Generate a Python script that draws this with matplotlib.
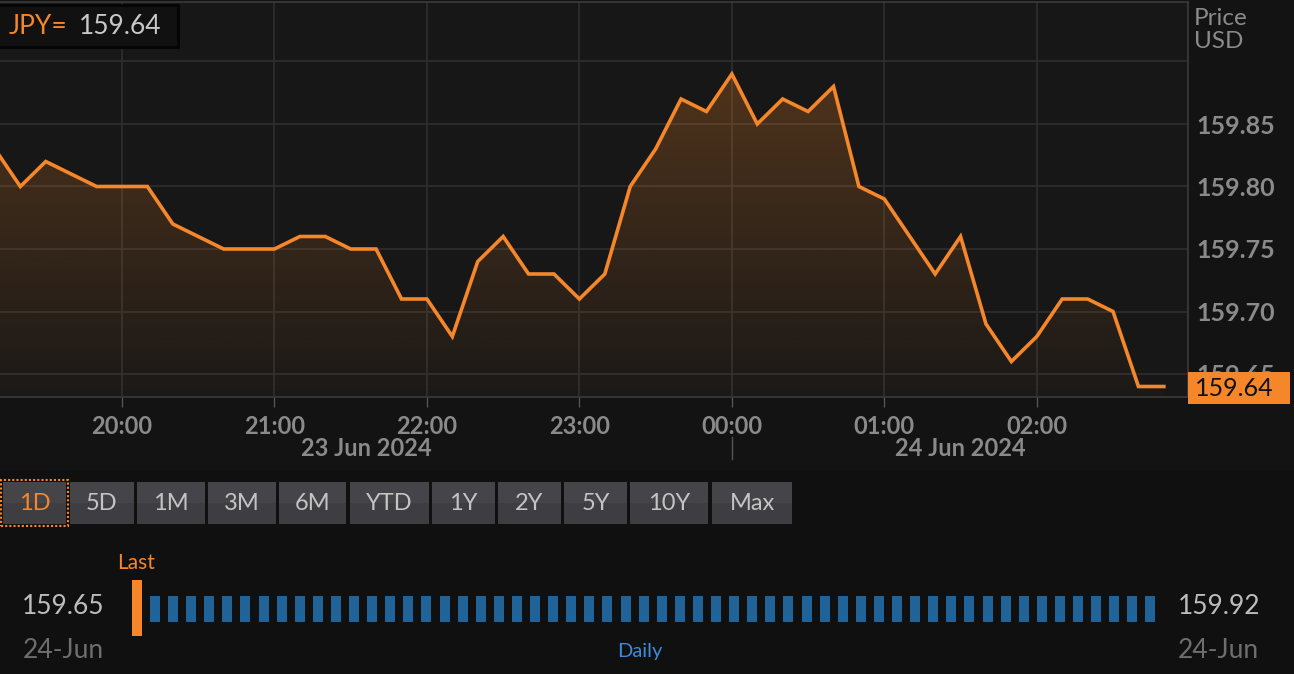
import numpy as np
import pandas as pd
import matplotlib
matplotlib.use("Agg")
import matplotlib.pyplot as plt
import matplotlib.dates as mdates
from matplotlib.patches import Rectangle

# ---------------- data ----------------
times = pd.date_range("2024-06-23 19:10", "2024-06-24 02:50", freq="10min")
prices = [159.83, 159.80, 159.82, 159.81, 159.80, 159.80, 159.80, 159.77, 159.76, 159.75,
          159.75, 159.75, 159.76, 159.76, 159.75, 159.75, 159.71, 159.71, 159.68, 159.74,
          159.76, 159.73, 159.73, 159.71, 159.73, 159.80, 159.83, 159.87, 159.86, 159.89,
          159.85, 159.87, 159.86, 159.88, 159.80, 159.79, 159.76, 159.73, 159.76, 159.69,
          159.66, 159.68, 159.71, 159.71, 159.70, 159.64, 159.64]
x_start = pd.Timestamp("2024-06-23 19:12")
x_end = pd.Timestamp("2024-06-24 02:59:30")
midnight = pd.Timestamp("2024-06-24 00:00")
x_ticks = pd.date_range("2024-06-23 20:00", "2024-06-24 02:00", freq="1h")
y_ticks = [159.65, 159.70, 159.75, 159.80, 159.85, 159.90]
y_tick_labels = ["159.65", "159.70", "159.75", "159.80", "159.85", ""]
day_labels = ["23 Jun 2024", "24 Jun 2024"]
ric = "JPY="
last_price = "159.64"
range_low = 159.65
range_high = 159.92
range_last = 159.65
range_date = "24-Jun"
periods = ["1D", "5D", "1M", "3M", "6M", "YTD", "1Y", "2Y", "5Y", "10Y", "Max"]
active_period = "1D"

# ---------------- style ----------------
plt.rcParams['font.family'] = ['Lato', 'DejaVu Sans']
W, H = 1294, 674
ORANGE = "#f5872a"
GRID = "#2e2e2e"
TICK = "#8a8a8a"

def fx(x):
    return x / W

def fy(y):
    return 1 - y / H

fig = plt.figure(figsize=(W / 100, H / 100), dpi=100, facecolor="#101010")
fig.add_artist(Rectangle((0, fy(470)), 1, 470 / H, transform=fig.transFigure,
                         facecolor="#131313", edgecolor="none", zorder=-5))

ax = fig.add_axes([0, fy(397), fx(1188), (397 - 2) / H])
ax.set_facecolor("#171717")
ymin, ymax = 159.6316, 159.9476

# gradient fill under the line
fb = ax.fill_between(times, prices, ymin, facecolor="none", edgecolor="none")
grad = np.zeros((256, 1, 4))
grad[..., :3] = matplotlib.colors.to_rgb(ORANGE)
grad[:, 0, 3] = np.linspace(0.31, 0.02, 256)
im = ax.imshow(grad, aspect="auto", origin="upper",
               extent=[mdates.date2num(x_start), mdates.date2num(x_end), ymin, ymax], zorder=1)
im.set_clip_path(fb.get_paths()[0], ax.transData)

ax.plot(times, prices, color=ORANGE, lw=2.6, zorder=3, solid_joinstyle="miter")
ax.set_xlim(x_start, x_end)
ax.set_ylim(ymin, ymax)

ax.set_yticks(y_ticks)
ax.set_yticklabels(y_tick_labels)
ax.yaxis.tick_right()
ax.tick_params(axis="y", length=0, pad=6, labelsize=18, labelcolor=TICK)
for t in ax.get_yticklabels():
    t.set_fontweight("bold")

ax.set_xticks(x_ticks)
ax.xaxis.set_major_formatter(mdates.DateFormatter("%H:%M"))
ax.tick_params(axis="x", length=7, width=1, color="#555555", pad=6,
               labelsize=17, labelcolor=TICK)
for t in ax.get_xticklabels():
    t.set_fontweight("bold")

ax.grid(True, color=GRID, lw=1.2, zorder=0)
ax.set_axisbelow(True)
for side, sp in ax.spines.items():
    sp.set_color("#3a3a3a")
    sp.set_linewidth(1.2)
ax.spines["left"].set_visible(False)

# day labels centred under each day's span
xl0 = mdates.date2num(x_start)
xl1 = mdates.date2num(x_end)
xm = mdates.date2num(midnight)
trans = matplotlib.transforms.blended_transform_factory(ax.transData, fig.transFigure)
ax.text((xl0 + xm) / 2, fy(449), day_labels[0], transform=trans, ha="center", va="center",
        fontsize=17, color=TICK, fontweight="bold", clip_on=False)
ax.text((xm + xl1) / 2, fy(449), day_labels[1], transform=trans, ha="center", va="center",
        fontsize=17, color=TICK, fontweight="bold", clip_on=False)
ax.plot([xm, xm], [fy(437), fy(459)], transform=trans, color="#555555", lw=1, clip_on=False)

# axis title
fig.text(fx(1194), fy(30), "Price\nUSD", ha="left", va="center", fontsize=17.5,
         color=TICK, linespacing=1.15)

# last price tag
fig.add_artist(Rectangle((fx(1188), fy(404)), fx(1290 - 1188), 32 / H,
                         transform=fig.transFigure, facecolor=ORANGE, edgecolor="none", zorder=5))
fig.text(fx(1234), fy(388), last_price, ha="center", va="center", fontsize=18,
         color="#111111", zorder=6)

# top-left quote box
fig.add_artist(Rectangle((fx(-2), fy(47)), fx(180), 42 / H, transform=fig.transFigure,
                         facecolor="#111111", edgecolor="#050505", lw=2, zorder=5))
fig.text(fx(9), fy(27), ric, ha="left", va="center", fontsize=19, color=ORANGE, zorder=6)
fig.text(fx(79), fy(27), last_price, ha="left", va="center", fontsize=19, color="#c8c8c8", zorder=6)

# period buttons
btn_left = [3, 70, 137, 208, 279, 350, 432, 498, 564, 630, 712]
btn_right = [66, 134, 205, 276, 346, 429, 495, 561, 627, 708, 792]
for lab, l, r in zip(periods, btn_left, btn_right):
    fig.add_artist(Rectangle((fx(l), fy(524)), fx(r - l), 42 / H, transform=fig.transFigure,
                             facecolor="#3d3d42", edgecolor="none", zorder=2))
    fig.add_artist(Rectangle((fx(l), fy(503)), fx(r - l), 21 / H, transform=fig.transFigure,
                             facecolor="#444449", edgecolor="none", zorder=2))
    active = lab == active_period
    fig.text(fx((l + r) / 2), fy(503), lab, ha="center", va="center", fontsize=17,
             color=ORANGE if active else "#c4c4c4", zorder=3)
    if active:
        fig.add_artist(Rectangle((fx(l - 2), fy(526)), fx(r - l + 4), 46 / H,
                                 transform=fig.transFigure, facecolor="none",
                                 edgecolor=ORANGE, lw=1.5, ls=(0, (1, 1)), zorder=4))

# day range bar
ax_r = fig.add_axes([fx(132), fy(636), fx(1156 - 132), 56 / H])
ax_r.set_axis_off()
ax_r.set_xlim(range_low, range_high)
ax_r.set_ylim(0, 56)
span = range_high - range_low
px = span / 1024
n_dash = 56
dash_x = range_low + 18 * px + 18.1 * px * np.arange(n_dash)
ax_r.bar(dash_x, 26, bottom=14, width=10 * px, color="#1f6399", align="edge")
ax_r.bar([range_last], 56, bottom=0, width=9.5 * px, color=ORANGE, align="edge")

fig.text(fx(136), fy(563), "Last", ha="center", va="center", fontsize=15, color=ORANGE)
fig.text(fx(104), fy(607), f"{range_low:.2f}", ha="right", va="center", fontsize=19, color="#bdbdbd")
fig.text(fx(104), fy(650), range_date, ha="right", va="center", fontsize=19, color="#6e6e6e")
fig.text(fx(1178), fy(607), f"{range_high:.2f}", ha="left", va="center", fontsize=19, color="#bdbdbd")
fig.text(fx(1178), fy(650), range_date, ha="left", va="center", fontsize=19, color="#6e6e6e")
fig.text(fx(640), fy(652), "Daily", ha="center", va="center", fontsize=14.5, color="#3d8bd9")

fig.savefig("out.png", dpi=100, facecolor=fig.get_facecolor())
